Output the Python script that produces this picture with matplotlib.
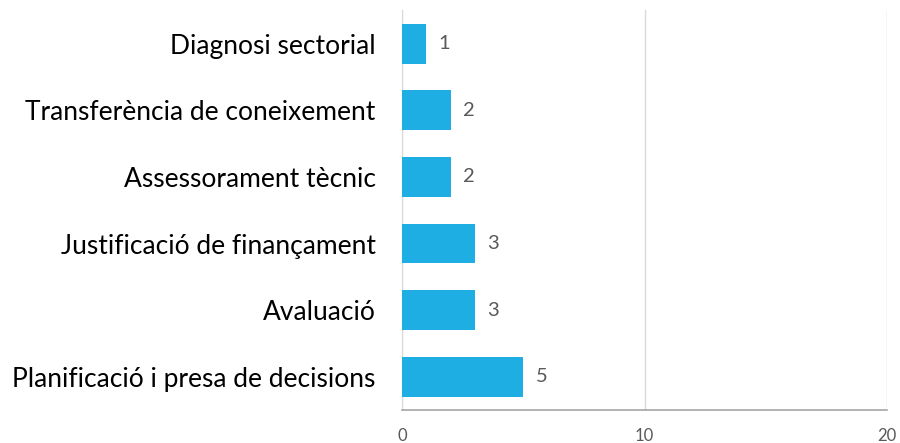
import matplotlib.pyplot as plt

categories = ['Diagnosi sectorial', 'Transferència de coneixement', 'Assessorament tècnic',
              'Justificació de finançament', 'Avaluació', 'Planificació i presa de decisions']
values = [1, 2, 2, 3, 3, 5]
x_ticks = [0, 10, 20]

plt.rcParams['font.family'] = ['Lato', 'DejaVu Sans']

fig = plt.figure(figsize=(9, 4.43), dpi=100)
ax = fig.add_axes([0.4467, 0.0745, 0.539, 0.902])

ypos = list(range(len(categories)))
ax.barh(ypos, values, height=0.6, color='#1FAEE3', zorder=3)
for y, v in zip(ypos, values):
    ax.text(v + 0.5, y, str(v), va='center', ha='left', fontsize=14.5, color='#595959')

ax.set_yticks(ypos)
ax.set_yticklabels(categories, fontsize=19, color='#000000')
ax.set_ylim(len(categories) - 0.5, -0.5)
ax.set_xlim(0, 20)
ax.set_xticks(x_ticks)
ax.set_xticklabels([str(t) for t in x_ticks], fontsize=12, color='#595959')
ax.tick_params(axis='y', length=0, pad=19)
ax.tick_params(axis='x', length=0, pad=13)

ax.grid(axis='x', color='#D9D9D9', linewidth=1, zorder=0)
for s in ['top', 'right']:
    ax.spines[s].set_visible(False)
ax.spines['left'].set_color('#D9D9D9')
ax.spines['bottom'].set_color('#A6A6A6')
ax.spines['bottom'].set_linewidth(1.2)

fig.savefig('out.png', dpi=100)
